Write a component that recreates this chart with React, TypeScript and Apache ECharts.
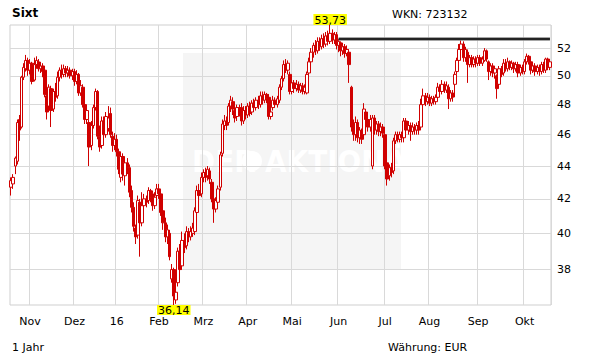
import React, { useEffect, useRef } from 'react';
import * as echarts from 'echarts';

const FONT = '"DejaVu Sans", Verdana, sans-serif';
const RED = '#d00000';

const TITLE = 'Sixt';
const WKN = 'WKN: 723132';
const PERIOD = '1 Jahr';
const CURRENCY = 'Währung: EUR';

const FIRST_DAY = '2015-10-20';
const LAST_DAY = '2016-10-19';
const HOLIDAYS = ['2015-12-24', '2015-12-25', '2015-12-31', '2016-01-01', '2016-03-25', '2016-03-28'];
const MONTH_NAMES = ['16', 'Feb', 'Mrz', 'Apr', 'Mai', 'Jun', 'Jul', 'Aug', 'Sep', 'Okt', 'Nov', 'Dez'];
const Y_TICKS = [38, 40, 42, 44, 46, 48, 50, 52];
const Y_MIN = 36.14;
const Y_MAX = 53.73;
const RESISTANCE = 52.67;
const RESISTANCE_FROM = 155;

// [open, close, low, high]
const OCT_2015 = [
  [42.7, 43.1, 42.2, 43.3], [42.9, 43.3, 42.6, 43.5], [44.0, 44.5, 43.5, 44.6], [44.3, 46.8, 44.1, 47.0],
  [47.0, 46.3, 45.6, 47.3], [46.5, 49.9, 46.4, 50.0], [49.9, 50.6, 49.7, 50.9], [50.5, 51.1, 50.3, 51.5],
  [51.1, 50.4, 50.0, 51.3],
];
const NOV_2015 = [
  [50.4, 50.9, 50.1, 51.2], [50.9, 49.6, 49.4, 51.0], [49.7, 50.8, 49.6, 51.3], [50.8, 51.1, 50.5, 51.4],
  [51.0, 50.5, 50.3, 51.2], [50.5, 50.7, 50.2, 51.0], [50.7, 50.3, 49.9, 50.9], [50.4, 48.7, 48.5, 50.6],
  [48.6, 47.5, 47.0, 48.8], [47.9, 49.2, 47.7, 49.4], [49.1, 47.6, 46.5, 49.3], [47.7, 48.9, 47.5, 49.1],
  [48.9, 48.5, 48.2, 49.5], [48.6, 49.9, 48.4, 50.3], [49.9, 50.4, 49.6, 50.6], [50.4, 50.1, 49.8, 50.8],
  [50.1, 50.5, 49.9, 50.8], [50.5, 50.2, 49.9, 50.7], [50.2, 50.4, 49.9, 50.7], [50.4, 50.0, 49.8, 50.6],
  [50.0, 50.3, 49.7, 50.5],
];
const DEC_2015 = [
  [50.3, 49.6, 49.3, 50.5], [49.6, 50.1, 49.4, 50.4], [50.1, 48.8, 48.6, 50.2], [48.8, 49.3, 48.6, 49.7],
  [49.2, 48.0, 47.8, 49.4], [48.0, 47.0, 46.7, 48.2], [47.0, 47.6, 46.7, 47.9], [46.8, 45.2, 44.0, 47.0],
  [45.3, 46.6, 45.0, 46.9], [46.6, 47.8, 46.4, 48.0], [47.8, 48.9, 47.6, 49.1], [48.9, 45.9, 45.7, 49.0],
  [45.9, 45.2, 44.9, 46.6], [45.3, 46.9, 45.1, 47.2], [46.9, 46.0, 45.6, 47.2], [46.0, 47.2, 45.8, 47.5],
  [46.4, 47.1, 46.2, 47.9], [47.4, 46.0, 45.8, 47.8], [45.9, 45.3, 44.9, 46.2], [45.3, 45.7, 45.0, 46.1],
];
const JAN_2016 = [
  [45.7, 44.9, 44.6, 46.0], [44.9, 43.8, 43.5, 45.1], [43.3, 44.6, 43.0, 44.8], [44.6, 43.5, 43.1, 44.8],
  [43.4, 44.2, 42.8, 44.4], [44.2, 43.9, 43.5, 44.5], [43.9, 42.4, 42.1, 44.1], [42.5, 41.5, 41.2, 42.8],
  [41.5, 40.4, 40.1, 41.8], [40.3, 39.8, 39.4, 40.5], [39.9, 41.9, 39.7, 42.2], [41.8, 40.6, 38.7, 42.0],
  [40.6, 41.6, 40.4, 42.4], [41.6, 42.0, 41.1, 42.3], [42.0, 41.8, 41.5, 42.2], [41.9, 42.5, 41.7, 42.7],
  [42.5, 42.1, 41.8, 42.6], [42.3, 41.6, 41.3, 42.5], [41.6, 42.1, 41.4, 42.4], [42.2, 42.6, 42.0, 42.9],
];
const FEB_2016 = [
  [42.6, 42.3, 42.0, 42.9], [42.3, 41.2, 41.0, 42.5], [41.3, 40.6, 40.2, 41.6], [40.6, 39.8, 39.5, 40.9],
  [39.8, 40.2, 39.4, 40.5], [40.0, 38.7, 38.5, 40.2], [37.5, 38.0, 37.3, 38.3], [38.0, 36.6, 36.14, 38.1],
  [36.4, 36.8, 36.2, 37.1], [37.3, 39.0, 37.1, 39.2], [39.0, 38.0, 37.7, 39.4], [38.2, 39.6, 38.0, 40.1],
  [39.6, 39.2, 38.9, 40.0], [39.3, 40.1, 39.1, 40.4], [40.1, 39.8, 39.5, 40.3], [39.8, 40.1, 39.6, 40.4],
  [40.0, 40.3, 39.8, 40.6], [40.1, 41.3, 39.9, 41.5], [41.2, 42.5, 41.0, 42.8], [42.5, 42.2, 41.9, 42.9],
  [42.3, 43.3, 42.1, 43.6],
];
const MAR_2016 = [
  [43.3, 43.6, 43.0, 43.8], [43.6, 43.3, 43.0, 43.9], [43.4, 43.8, 43.1, 44.0], [43.7, 43.2, 42.9, 43.9],
  [43.0, 42.0, 41.8, 43.2], [42.0, 41.4, 40.6, 42.2], [41.4, 41.9, 41.2, 42.1], [41.8, 42.6, 41.6, 42.8],
  [42.7, 44.7, 42.5, 44.9], [44.8, 46.7, 44.6, 47.0], [46.6, 46.9, 46.3, 47.3], [46.9, 46.6, 46.3, 47.2],
  [46.8, 47.9, 46.6, 48.1], [47.9, 48.3, 47.5, 48.6], [48.2, 47.7, 47.3, 48.5], [47.6, 47.1, 46.8, 48.2],
  [47.2, 47.8, 46.9, 48.0], [47.8, 47.5, 47.2, 48.0], [47.8, 46.9, 46.6, 48.1], [46.9, 47.6, 46.7, 47.9],
  [47.6, 47.3, 47.0, 47.9],
];
const APR_2016 = [
  [47.3, 47.9, 47.1, 48.1], [47.9, 47.4, 47.2, 48.2], [47.5, 48.1, 47.3, 48.3], [48.1, 47.8, 47.5, 48.4],
  [47.8, 48.3, 47.6, 48.5], [48.3, 48.0, 47.7, 48.6], [48.0, 48.6, 47.8, 48.9], [48.6, 48.3, 48.0, 48.9],
  [48.3, 48.7, 48.1, 48.9], [48.7, 48.4, 48.1, 48.8], [48.5, 47.2, 47.0, 48.7], [47.2, 47.5, 47.0, 48.2],
  [47.8, 48.3, 47.6, 48.6], [48.3, 48.0, 47.8, 48.5], [48.0, 48.4, 47.8, 48.6], [48.3, 49.2, 48.1, 49.4],
  [49.2, 49.8, 49.0, 50.0], [49.8, 50.8, 49.6, 51.1], [50.8, 50.4, 50.2, 51.2], [50.4, 50.9, 50.1, 51.1],
  [50.1, 48.9, 48.7, 50.3],
];
const MAY_2016 = [
  [48.9, 49.5, 48.7, 49.8], [49.5, 49.1, 48.8, 49.7], [49.1, 49.4, 48.9, 49.7], [49.4, 49.0, 48.8, 49.6],
  [49.0, 49.3, 48.8, 49.5], [49.3, 48.9, 48.7, 49.5], [48.9, 49.2, 48.7, 49.4], [48.8, 50.1, 48.7, 50.3],
  [50.2, 51.0, 50.0, 51.3], [51.0, 51.7, 50.8, 52.0], [51.7, 52.2, 51.3, 52.4], [52.2, 51.8, 51.5, 52.6],
  [51.8, 52.5, 51.6, 52.8], [52.5, 52.1, 51.8, 52.8], [52.1, 52.7, 51.9, 53.0], [52.7, 52.3, 52.0, 53.1],
  [52.3, 52.9, 52.1, 53.2], [52.9, 52.5, 52.2, 53.3], [52.5, 53.1, 52.3, 53.73], [53.1, 52.6, 52.3, 53.4],
  [52.6, 53.0, 52.3, 53.2], [53.0, 52.2, 51.9, 53.2],
];
const JUN_2016 = [
  [52.2, 52.5, 51.7, 52.67], [52.4, 51.8, 51.4, 52.5], [51.8, 52.1, 51.5, 52.4], [52.1, 51.6, 51.3, 52.3],
  [51.6, 51.9, 51.4, 52.2], [51.7, 50.8, 49.5, 51.9], [49.2, 46.5, 46.2, 49.3], [46.5, 46.0, 45.6, 47.0],
  [46.0, 46.8, 45.6, 47.2], [46.8, 45.8, 45.5, 47.0], [45.8, 46.3, 45.4, 46.5], [46.2, 45.7, 45.4, 46.4],
  [46.0, 47.7, 45.9, 48.1], [47.5, 47.0, 46.7, 47.7], [47.0, 46.5, 46.2, 47.3], [46.5, 47.0, 46.2, 47.3],
  [44.0, 47.1, 43.8, 47.3], [47.1, 46.3, 46.0, 47.3], [46.3, 46.7, 46.0, 46.9], [46.7, 46.2, 45.9, 46.9],
  [46.2, 46.5, 45.9, 46.8], [46.5, 46.1, 45.8, 46.7],
];
const JUL_2016 = [
  [46.0, 44.0, 43.8, 46.1], [44.2, 43.2, 42.8, 44.4], [43.4, 43.9, 43.1, 44.1], [43.9, 43.6, 43.3, 44.2],
  [43.7, 45.6, 43.5, 45.8], [45.6, 46.0, 45.4, 46.2], [46.0, 45.7, 45.5, 46.2], [45.7, 46.0, 45.5, 46.2],
  [46.0, 45.8, 45.5, 46.2], [45.8, 46.9, 45.5, 47.1], [46.9, 46.3, 45.9, 47.1], [46.3, 46.6, 46.0, 46.9],
  [46.6, 46.2, 45.6, 46.8], [46.2, 46.5, 46.0, 46.8], [46.5, 46.3, 46.0, 46.7], [46.3, 46.6, 46.0, 46.8],
  [46.6, 46.3, 46.0, 46.9], [46.5, 48.0, 46.3, 48.4], [48.0, 48.6, 47.7, 49.1], [48.6, 48.2, 47.9, 48.8],
  [48.2, 48.5, 48.0, 48.8],
];
const AUG_2016 = [
  [48.5, 48.1, 47.9, 48.7], [48.1, 48.4, 47.9, 48.6], [48.4, 48.2, 48.0, 48.6], [48.2, 48.5, 48.0, 48.7],
  [48.5, 49.2, 48.3, 49.5], [49.2, 48.9, 48.6, 49.4], [48.9, 49.4, 48.7, 49.7], [49.4, 49.0, 48.8, 49.6],
  [49.0, 49.3, 48.8, 49.6], [49.2, 48.4, 47.7, 49.4], [48.4, 48.8, 48.2, 49.0], [48.8, 48.5, 48.2, 49.0],
  [49.4, 50.1, 48.5, 50.3], [50.3, 51.1, 50.1, 51.3], [51.1, 51.9, 50.9, 52.3], [51.9, 52.3, 51.6, 52.75],
  [52.3, 51.3, 51.0, 52.5], [51.3, 51.9, 51.0, 52.1], [51.7, 50.8, 49.5, 51.9], [50.8, 51.3, 50.6, 51.5],
  [51.3, 50.8, 50.6, 51.5], [50.8, 51.2, 50.6, 51.4], [51.2, 50.9, 50.6, 51.4],
];
const SEP_2016 = [
  [50.9, 51.3, 50.7, 51.5], [51.3, 50.9, 50.7, 51.5], [50.9, 51.2, 50.7, 51.4], [51.1, 51.8, 51.0, 52.0],
  [51.8, 51.2, 51.0, 51.9], [51.0, 50.3, 49.7, 51.1], [50.3, 50.7, 50.0, 50.9], [50.7, 50.2, 49.9, 50.9],
  [50.2, 50.5, 49.8, 50.7], [50.0, 49.1, 48.4, 50.1], [49.4, 50.5, 49.3, 50.7], [50.5, 50.1, 49.9, 50.7],
  [50.2, 50.9, 50.0, 51.2], [50.9, 50.5, 50.3, 51.2], [50.5, 51.0, 50.3, 51.3], [51.0, 50.6, 50.4, 51.1],
  [50.6, 50.9, 50.4, 51.1], [50.9, 50.5, 50.2, 51.0], [50.5, 50.8, 50.3, 51.0], [50.8, 50.2, 49.9, 51.0],
  [50.2, 50.6, 50.0, 50.8], [50.6, 50.3, 50.1, 50.8],
];
const OCT_2016 = [
  [50.3, 51.0, 50.1, 51.2], [51.0, 51.4, 50.8, 51.6], [51.4, 51.0, 50.8, 51.5], [51.0, 50.4, 50.1, 51.1],
  [50.4, 50.7, 50.2, 50.9], [50.7, 50.3, 50.0, 50.9], [50.3, 50.6, 50.1, 50.8], [50.6, 50.3, 50.0, 50.8],
  [50.3, 50.8, 50.1, 51.0], [50.8, 50.4, 50.2, 51.0], [50.4, 51.2, 50.2, 51.3], [51.2, 50.6, 50.4, 51.3],
  [50.6, 51.0, 50.4, 51.2],
];

const OHLC = [
  ...OCT_2015, ...NOV_2015, ...DEC_2015, ...JAN_2016, ...FEB_2016, ...MAR_2016,
  ...APR_2016, ...MAY_2016, ...JUN_2016, ...JUL_2016, ...AUG_2016, ...SEP_2016, ...OCT_2016,
];

function tradingDays(from: string, to: string, holidays: string[]): string[] {
  const out: string[] = [];
  const d = new Date(from + 'T00:00:00Z');
  const end = new Date(to + 'T00:00:00Z');
  while (d <= end) {
    const wd = d.getUTCDay();
    const s = d.toISOString().slice(0, 10);
    if (wd !== 0 && wd !== 6 && holidays.indexOf(s) < 0) out.push(s);
    d.setUTCDate(d.getUTCDate() + 1);
  }
  return out;
}

const DATES = tradingDays(FIRST_DAY, LAST_DAY, HOLIDAYS);

const isMonthStart = (i: number) =>
  i > 0 && DATES[i] && DATES[i - 1] && DATES[i].slice(5, 7) !== DATES[i - 1].slice(5, 7);

const fmt = (v: number) => v.toFixed(2).replace('.', ',');

const WM_FONT = 'bold 31px "DejaVu Sans Condensed", "DejaVu Sans", sans-serif';

export default function App() {
  const ref = useRef<HTMLDivElement>(null);
  useEffect(() => {
    if (!ref.current) return;
    const chart = echarts.init(ref.current, null, { renderer: 'svg' });
    const option: any = {
      animation: false,
      backgroundColor: '#ffffff',
      textStyle: { fontFamily: FONT },
      grid: {
        left: 10, right: 60, top: 25, bottom: 59,
        show: true, borderColor: '#cfcfcf', borderWidth: 1, backgroundColor: 'transparent',
      },
      xAxis: {
        type: 'category',
        data: DATES,
        boundaryGap: true,
        axisLine: { show: false },
        axisTick: { show: false },
        axisLabel: {
          interval: (i: number) => isMonthStart(i),
          formatter: (v: string) => MONTH_NAMES[parseInt(v.slice(5, 7), 10) - 1],
          color: '#000', fontSize: 11, lineHeight: 11, fontFamily: FONT, margin: 11,
        },
        splitLine: {
          show: true,
          interval: (i: number) => isMonthStart(i),
          lineStyle: { color: '#d9d9d9', width: 1 },
        },
      },
      yAxis: {
        type: 'log',
        min: Y_MIN,
        max: Y_MAX,
        show: false,
        splitLine: { show: false },
      },
      graphic: [
        { type: 'rect', z: -20, silent: true, shape: { x: 183, y: 53, width: 218, height: 216 }, style: { fill: '#f5f5f5' } },
        { type: 'text', z: -19, silent: true, x: 192, y: 161, style: { text: 'DER', fill: '#ffffff', font: WM_FONT, verticalAlign: 'middle' } },
        { type: 'circle', z: -19, silent: true, shape: { cx: 252, cy: 161, r: 10 }, style: { fill: '#ffffff' } },
        { type: 'text', z: -19, silent: true, x: 265, y: 161, style: { text: 'AKTIONÄR', fill: '#ffffff', font: WM_FONT, verticalAlign: 'middle' } },
        { type: 'text', x: 12, y: 13, style: { text: TITLE, fill: '#000', font: 'bold 12px ' + FONT, verticalAlign: 'middle' } },
        { type: 'text', x: 392, y: 14, style: { text: WKN, fill: '#000', font: '11px ' + FONT, verticalAlign: 'middle' } },
        { type: 'text', x: 12, y: 347, style: { text: PERIOD, fill: '#000', font: '11px ' + FONT, verticalAlign: 'middle' } },
        { type: 'text', x: 388, y: 347, style: { text: CURRENCY, fill: '#000', font: '11px ' + FONT, verticalAlign: 'middle' } },
      ],
      series: [
        {
          type: 'line',
          data: [],
          z: 1,
          silent: true,
          markLine: {
            silent: true,
            z: 1,
            symbol: ['none', 'none'],
            lineStyle: { color: '#d9d9d9', width: 1, type: 'solid' },
            label: {
              show: true, position: 'end', distance: 6, color: '#000', fontSize: 11, fontFamily: FONT,
              formatter: (p: any) => String(p.value),
            },
            emphasis: { disabled: true },
            data: Y_TICKS.map((v) => ({ yAxis: v })),
          },
        },
        {
          type: 'candlestick',
          data: OHLC,
          z: 2,
          barWidth: 3,
          itemStyle: { color: '#ffffff', color0: RED, borderColor: RED, borderColor0: RED, borderWidth: 1 },
          markPoint: {
            symbol: 'circle',
            symbolSize: 0,
            itemStyle: { color: 'rgba(0,0,0,0)' },
            label: {
              show: true, color: '#000', fontSize: 11, fontFamily: FONT, lineHeight: 10,
              backgroundColor: '#ffff00', padding: [1, 1, 0, 1], distance: 0,
              formatter: (p: any) => fmt(Number(p.value)),
            },
            data: [
              { type: 'max', valueDim: 'highest', label: { position: 'top' } },
              { type: 'min', valueDim: 'lowest', label: { position: 'bottom', padding: [0, 1, 0, 1] } },
            ],
          },
          markLine: {
            silent: true,
            symbol: ['none', 'none'],
            label: { show: false },
            emphasis: { disabled: true },
            data: [
              [
                { coord: [DATES[RESISTANCE_FROM], RESISTANCE], lineStyle: { color: '#8a8a8a', width: 3.5, type: 'solid' } },
                { coord: [DATES[DATES.length - 1], RESISTANCE] },
              ],
              [
                { coord: [DATES[RESISTANCE_FROM], RESISTANCE], lineStyle: { color: '#000', width: 1.5, type: 'solid' } },
                { coord: [DATES[DATES.length - 1], RESISTANCE] },
              ],
            ],
          },
        },
      ],
    };
    chart.setOption(option);
    return () => chart.dispose();
  }, []);
  return <div ref={ref} style={{ position: 'fixed', left: 0, top: 0, width: 611, height: 364 }} />;
}
